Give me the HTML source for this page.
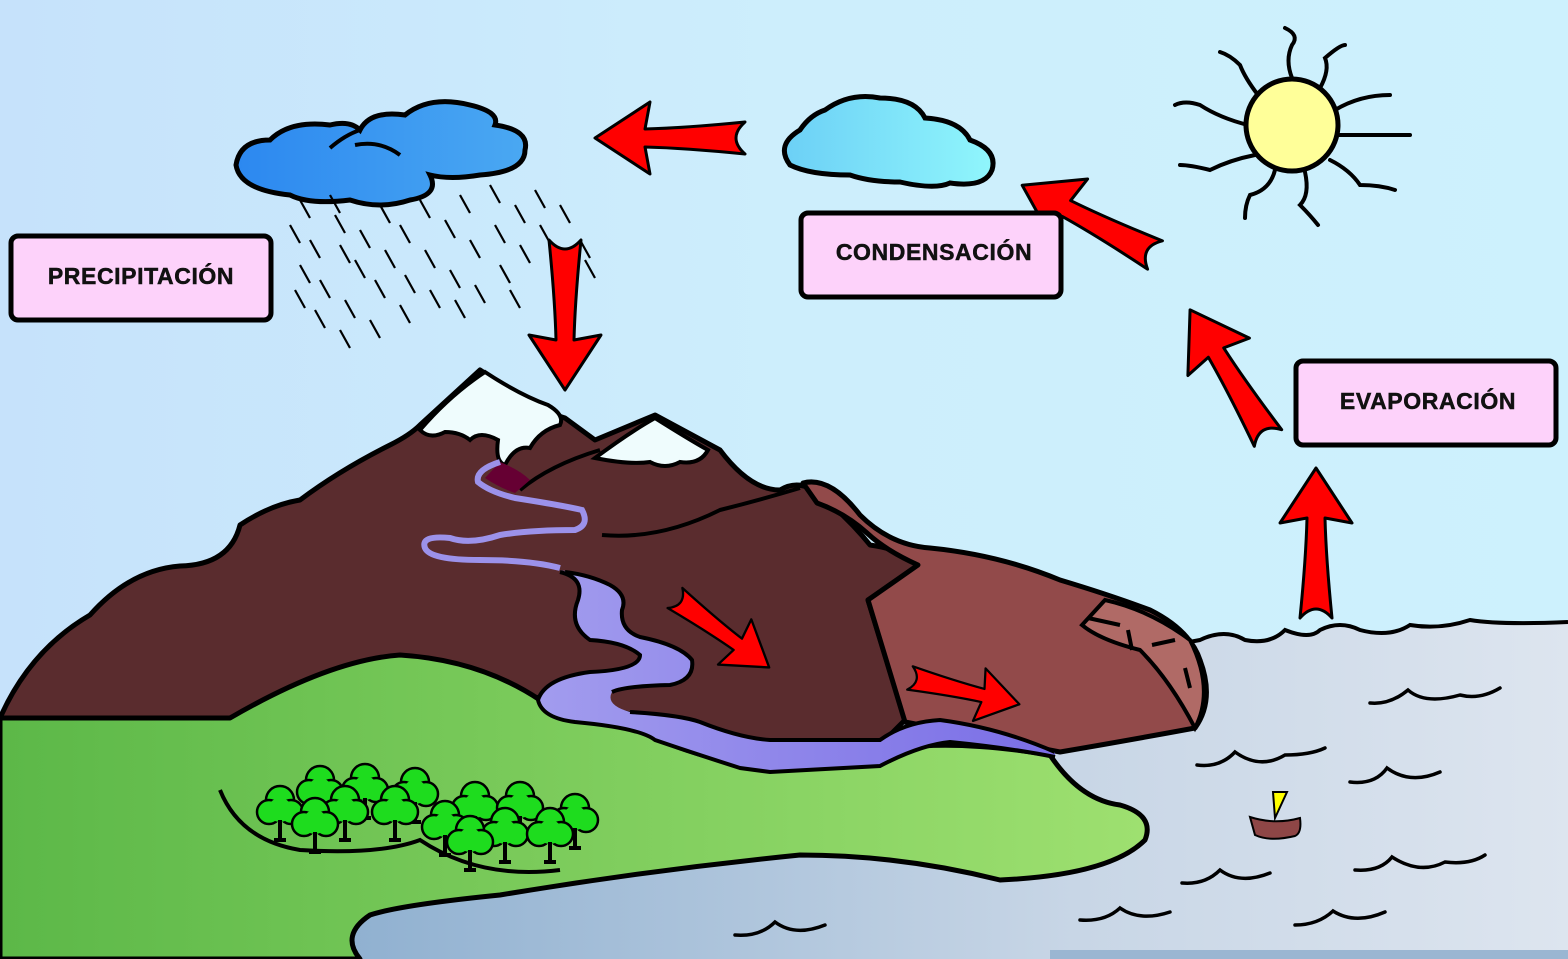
<!DOCTYPE html>
<html><head><meta charset="utf-8"><style>
html,body{margin:0;padding:0;width:1568px;height:959px;overflow:hidden}
svg{display:block}
.lbl{font-family:"Liberation Sans",sans-serif;font-weight:bold;font-size:23px;fill:#111;letter-spacing:0.6px;stroke:#111;stroke-width:0.5px}
</style></head><body>
<svg width="1568" height="959" viewBox="0 0 1568 959" xmlns="http://www.w3.org/2000/svg">
<defs>
<linearGradient id="sky" x1="0" x2="1" y1="0" y2="0"><stop offset="0" stop-color="#c6e2fb"/><stop offset="0.5" stop-color="#cdeefc"/><stop offset="1" stop-color="#cdf1fd"/></linearGradient>
<linearGradient id="sea" x1="0" x2="1"><stop offset="0" stop-color="#8fb0d0"/><stop offset="0.6" stop-color="#c8d6e6"/><stop offset="1" stop-color="#dde5ef"/></linearGradient>
<linearGradient id="grass" x1="0" x2="1"><stop offset="0" stop-color="#5cb848"/><stop offset="1" stop-color="#9ee070"/></linearGradient>
<linearGradient id="cl1" x1="0" x2="1"><stop offset="0" stop-color="#2c88f0"/><stop offset="1" stop-color="#4aa8f2"/></linearGradient>
<linearGradient id="cl2" x1="0" x2="1"><stop offset="0" stop-color="#6cd0f6"/><stop offset="1" stop-color="#90f6fc"/></linearGradient>
<linearGradient id="riv" x1="0" x2="1"><stop offset="0" stop-color="#a29cee"/><stop offset="1" stop-color="#7a6ee6"/></linearGradient>
<g id="arr"><path d="M0,-16 Q60,-10 100,-9 L95,-36 L150,0 L95,36 L100,9 Q60,10 0,16 Q18,0 0,-16Z" fill="#ff0000" stroke="#000" stroke-width="3" stroke-linejoin="round"/></g>
<g id="tree"><circle cx="0" cy="0" r="14" fill="#1edc1e" stroke="#000" stroke-width="2.5"/><circle cx="-11" cy="12" r="12" fill="#1edc1e" stroke="#000" stroke-width="2.5"/><circle cx="11" cy="12" r="12" fill="#1edc1e" stroke="#000" stroke-width="2.5"/><circle cx="0" cy="10" r="12" fill="#1edc1e"/><path d="M0,20 V40 M-6,40 H6" stroke="#000" stroke-width="4"/></g>
</defs>
<rect width="1568" height="959" fill="url(#sky)"/>
<!-- water -->
<path d="M340,959 L340,700 L1050,650 Q1150,650 1200,640 Q1225,628 1245,640 Q1270,645 1285,630 Q1310,640 1320,630 Q1340,620 1360,630 Q1390,638 1410,625 Q1440,630 1470,620 Q1500,625 1568,622 L1568,959Z" fill="url(#sea)"/>
<path d="M1050,650 Q1150,650 1200,640 Q1225,628 1245,640 Q1270,645 1285,630 Q1310,640 1320,630 Q1340,620 1360,630 Q1390,638 1410,625 Q1440,630 1470,620 Q1500,625 1568,622" fill="none" stroke="#000" stroke-width="4"/>
<rect x="1050" y="950" width="518" height="9" fill="#9ab6d2"/>
<!-- dark mountain -->
<path d="M0,718 Q30,650 90,615 Q130,570 180,566 Q230,565 240,525 Q270,505 300,500 Q340,470 390,445 Q410,435 420,425 L480,370 L540,410 L565,418 L595,440 L655,415 L720,450 Q750,490 780,490 Q800,478 820,495 Q850,520 870,545 Q905,550 918,565 Q890,585 868,600 L905,720 L880,745 L770,745 L660,720 L560,700 L470,690 Q350,660 230,718Z" fill="#5a2c2e" stroke="#000" stroke-width="5" stroke-linejoin="round"/>
<!-- cliff light brown -->
<path d="M803,483 Q830,476 860,515 Q890,545 930,548 Q1000,555 1060,580 Q1110,595 1150,610 Q1190,630 1200,660 Q1215,700 1195,728 Q1130,740 1060,752 L905,722 L868,600 L918,565 Q885,550 867,533 Q845,513 817,503Z" fill="#924a4a" stroke="#000" stroke-width="5" stroke-linejoin="round"/>
<path d="M1105,600 Q1150,610 1190,640 Q1215,690 1195,728 Q1170,680 1140,650 Q1100,640 1082,625Z" fill="#b06a66" stroke="#000" stroke-width="4"/>
<path d="M1088,618 L1120,625 M1128,630 L1132,650 M1152,645 L1175,640 M1185,668 L1190,688" stroke="#000" stroke-width="4"/>
<!-- snow -->
<path d="M420,430 Q450,395 485,372 Q520,395 548,405 Q565,415 560,425 Q540,430 530,448 Q515,445 505,465 Q495,462 498,440 Q480,430 470,440 Q460,432 445,432 Q430,440 420,430Z" fill="#effcfd" stroke="#000" stroke-width="4"/>
<path d="M595,458 Q630,432 655,418 Q690,440 708,450 Q700,465 680,462 Q665,470 650,462 Q630,465 595,458Z" fill="#effcfd" stroke="#000" stroke-width="4"/>
<path d="M520,490 Q550,465 600,450 M602,535 Q660,540 720,510 Q760,500 800,488" fill="none" stroke="#000" stroke-width="4"/>
<path d="M500,462 Q520,470 530,480 L515,493 Q500,488 485,478Z" fill="#660033"/>
<!-- small stream -->
<path d="M500,462 Q475,470 478,482 Q490,492 515,498 Q560,505 582,510 Q590,525 575,530 Q530,530 500,535 Q470,545 450,538 Q420,535 425,548 Q430,560 480,560 Q530,560 560,568" fill="none" stroke="#9c92ea" stroke-width="6"/>
<!-- grass -->
<path d="M0,718 L230,718 Q330,660 400,655 Q480,660 540,700 L650,735 Q700,760 760,765 L900,748 Q960,740 1050,755 Q1080,800 1120,805 Q1155,815 1145,840 Q1110,875 1000,880 Q900,855 800,855 Q650,870 500,895 Q400,905 370,915 Q340,935 360,959 L0,959Z" fill="url(#grass)" stroke="#000" stroke-width="5" stroke-linejoin="round"/>
<!-- river -->
<path d="M560,570 Q585,578 578,600 Q568,625 590,640 Q625,642 640,655 Q640,670 590,672 Q545,678 538,700 Q542,718 575,722 Q640,728 655,740 Q690,752 740,768 L770,772 L880,766 Q920,745 950,742 Q1010,748 1055,757 L1055,752 Q1000,728 940,720 Q905,722 880,740 L770,740 Q740,738 700,722 Q680,715 630,712 Q605,705 612,692 Q625,686 670,685 Q695,680 692,660 Q680,645 640,637 Q620,630 622,610 Q628,595 610,585 Q590,575 560,570Z" fill="url(#riv)"/>
<path d="M560,572 Q585,578 578,600 Q568,625 590,640 Q625,642 640,655 Q640,670 590,672 Q545,678 538,700 Q542,718 575,722 Q640,728 655,740 Q690,752 740,768 L770,772 L880,766 Q920,745 950,742 Q1010,748 1055,757" fill="none" stroke="#000" stroke-width="4"/>
<path d="M612,692 Q625,686 670,685 Q695,680 692,660 Q680,645 640,637 Q620,630 622,610 Q628,595 610,585 Q590,575 565,572 M630,712 Q680,715 700,722 Q740,738 770,740 L880,740 Q905,722 940,720 Q1000,728 1055,752" fill="none" stroke="#000" stroke-width="4"/>
<!-- hills line -->
<path d="M220,790 Q240,840 300,850 Q380,855 420,840 Q480,880 560,870" fill="none" stroke="#000" stroke-width="4"/>
<!-- trees -->
<use href="#tree" x="320" y="780"/><use href="#tree" x="365" y="778"/><use href="#tree" x="415" y="782"/><use href="#tree" x="280" y="800"/><use href="#tree" x="345" y="800"/><use href="#tree" x="395" y="800"/><use href="#tree" x="315" y="812"/><use href="#tree" x="475" y="796"/><use href="#tree" x="520" y="796"/><use href="#tree" x="575" y="808"/><use href="#tree" x="445" y="815"/><use href="#tree" x="505" y="822"/><use href="#tree" x="550" y="822"/><use href="#tree" x="470" y="830"/>
<!-- boat -->
<path d="M1250,817 Q1275,825 1300,818 Q1302,833 1295,836 Q1270,842 1255,835Z" fill="#8e4646" stroke="#000" stroke-width="2"/>
<path d="M1273,792 L1287,792 L1275,818Z" fill="#ffff00" stroke="#000" stroke-width="2"/>
<!-- waves -->
<g fill="none" stroke="#000" stroke-width="3.5" stroke-linecap="round">
<path d="M1370,703 Q1390,705 1408,690 Q1425,705 1460,695 Q1480,700 1500,688"/>
<path d="M1197,765 Q1220,768 1235,752 Q1260,770 1285,755 Q1310,755 1325,748"/>
<path d="M1350,782 Q1375,785 1387,768 Q1410,785 1440,772"/>
<path d="M1355,870 Q1380,872 1392,857 Q1420,875 1445,862 Q1470,865 1485,855"/>
<path d="M1182,883 Q1205,885 1220,870 Q1240,885 1270,873"/>
<path d="M1080,920 Q1105,922 1120,908 Q1140,922 1170,912"/>
<path d="M1295,925 Q1318,925 1333,911 Q1355,925 1385,912"/>
<path d="M735,935 Q760,937 775,922 Q795,937 825,925"/>
</g>
<!-- clouds -->
<path d="M360,130 Q370,110 405,115 Q430,95 470,105 Q500,112 495,125 Q530,130 525,150 Q525,172 480,175 Q450,180 430,175 Q440,195 410,200 Q380,210 350,200 Q310,205 290,195 Q240,190 236,165 Q240,140 270,140 Q290,120 330,125 Q350,120 360,130Z" fill="url(#cl1)" stroke="#000" stroke-width="5"/>
<path d="M355,145 Q380,140 400,155 M330,148 Q345,135 360,130" fill="none" stroke="#000" stroke-width="4"/>
<path d="M825,110 Q850,92 880,98 Q915,98 925,118 Q960,120 970,140 Q998,150 992,170 Q985,188 950,183 Q935,190 900,182 Q870,182 850,175 Q810,175 790,165 Q775,145 800,130 Q810,115 825,110Z" fill="url(#cl2)" stroke="#000" stroke-width="5"/>
<!-- rain -->
<g stroke="#000" stroke-width="2.2">
<path d="M290,225 l10,18 M310,240 l10,18 M300,265 l10,18 M295,290 l10,18 M320,280 l10,18 M340,245 l10,18 M335,215 l10,18 M360,230 l10,18 M355,260 l10,18 M345,300 l10,18 M315,310 l10,18 M380,205 l10,18 M385,250 l10,18 M375,280 l10,18 M370,320 l10,18 M400,225 l10,18 M405,275 l10,18 M400,305 l10,18 M420,200 l10,18 M425,250 l10,18 M430,290 l10,18 M445,220 l10,18 M450,270 l10,18 M460,195 l10,18 M470,240 l10,18 M475,285 l10,18 M490,185 l10,18 M495,225 l10,18 M500,265 l10,18 M515,205 l10,18 M520,245 l10,18 M510,290 l10,18 M535,190 l10,18 M540,225 l10,18 M560,205 l10,18 M585,260 l10,18 M580,240 l10,18 M340,330 l10,18 M330,195 l10,18 M455,300 l10,18 M300,200 l10,18"/>
</g>
<!-- sun -->
<g fill="none" stroke="#000" stroke-width="4" stroke-linecap="round">
<path d="M1292,78 Q1285,60 1292,45 Q1300,35 1285,28"/>
<path d="M1320,88 Q1330,70 1325,58 Q1340,45 1345,45"/>
<path d="M1335,110 Q1360,95 1390,95"/>
<path d="M1338,135 Q1370,135 1410,135"/>
<path d="M1330,160 Q1350,170 1360,185 Q1380,185 1395,190"/>
<path d="M1305,172 Q1310,195 1300,205 Q1310,215 1318,225"/>
<path d="M1275,170 Q1270,190 1250,195 Q1245,205 1245,218"/>
<path d="M1255,155 Q1230,160 1210,170 Q1190,165 1180,165"/>
<path d="M1248,125 Q1220,118 1200,105 Q1185,100 1175,105"/>
<path d="M1258,95 Q1245,78 1240,65 Q1230,55 1220,52"/>
</g>
<circle cx="1292" cy="125" r="46" fill="#ffff99" stroke="#000" stroke-width="5"/>
<!-- arrows -->
<use href="#arr" transform="translate(745,138) rotate(180)"/>
<use href="#arr" transform="translate(565,240) rotate(90)"/>
<use href="#arr" transform="translate(1155,255) rotate(207.7)"/>
<use href="#arr" transform="translate(1268,438) rotate(238.7)"/>
<use href="#arr" transform="translate(1316,618) rotate(-90)"/>
<use href="#arr" transform="translate(675,598) rotate(36.4) scale(0.78)"/>
<use href="#arr" transform="translate(910,678) rotate(13.5) scale(0.75)"/>
<!-- labels -->
<rect x="11" y="236" width="260" height="84" rx="7" fill="#fdd2fa" stroke="#000" stroke-width="5"/>
<text class="lbl" x="141" y="284" text-anchor="middle">PRECIPITACIÓN</text>
<rect x="801" y="213" width="260" height="84" rx="7" fill="#fdd2fa" stroke="#000" stroke-width="5"/>
<text class="lbl" x="934" y="260" text-anchor="middle">CONDENSACIÓN</text>
<rect x="1296" y="361" width="260" height="84" rx="7" fill="#fdd2fa" stroke="#000" stroke-width="5"/>
<text class="lbl" x="1428" y="409" text-anchor="middle">EVAPORACIÓN</text>
</svg>
</body></html>
